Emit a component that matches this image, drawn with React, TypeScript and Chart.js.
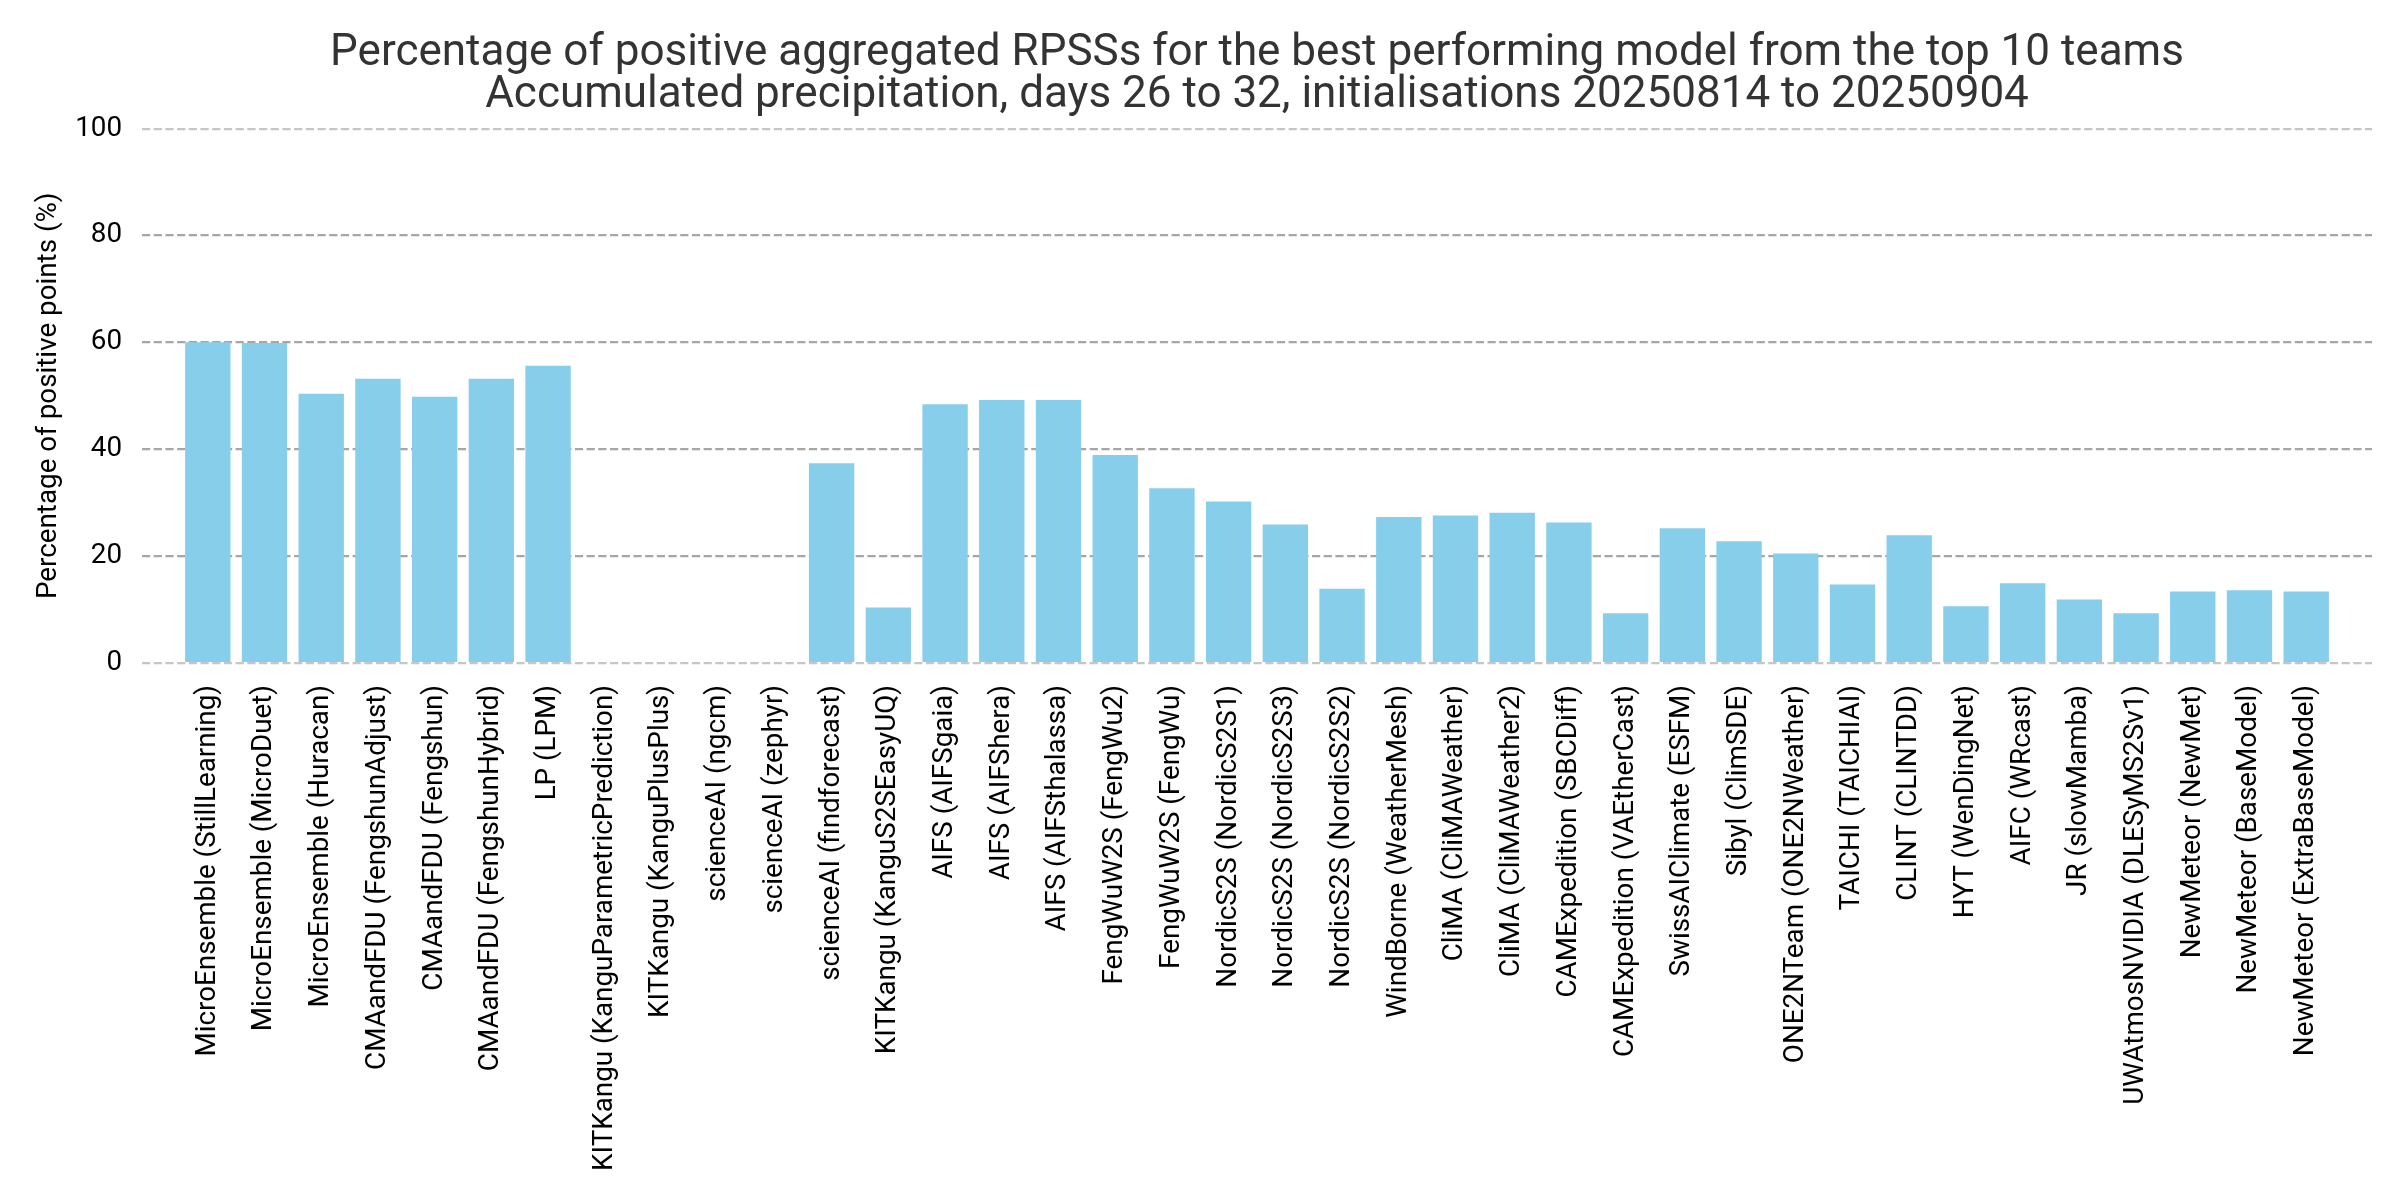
import React, { useEffect, useRef } from "react";
import { Chart, registerables } from "chart.js";

Chart.register(...registerables);

const titleLines = [
  "Percentage of positive aggregated RPSSs for the best performing model from the top 10 teams",
  "Accumulated precipitation, days 26 to 32, initialisations 20250814 to 20250904",
];
const yAxisLabel = "Percentage of positive points (%)";

const categories = [
  "MicroEnsemble (StillLearning)",
  "MicroEnsemble (MicroDuet)",
  "MicroEnsemble (Huracan)",
  "CMAandFDU (FengshunAdjust)",
  "CMAandFDU (Fengshun)",
  "CMAandFDU (FengshunHybrid)",
  "LP (LPM)",
  "KITKangu (KanguParametricPrediction)",
  "KITKangu (KanguPlusPlus)",
  "scienceAI (ngcm)",
  "scienceAI (zephyr)",
  "scienceAI (findforecast)",
  "KITKangu (KanguS2SEasyUQ)",
  "AIFS (AIFSgaia)",
  "AIFS (AIFShera)",
  "AIFS (AIFSthalassa)",
  "FengWuW2S (FengWu2)",
  "FengWuW2S (FengWu)",
  "NordicS2S (NordicS2S1)",
  "NordicS2S (NordicS2S3)",
  "NordicS2S (NordicS2S2)",
  "WindBorne (WeatherMesh)",
  "CliMA (CliMAWeather)",
  "CliMA (CliMAWeather2)",
  "CAMExpedition (SBCDiff)",
  "CAMExpedition (VAEtherCast)",
  "SwissAIClimate (ESFM)",
  "Sibyl (ClimSDE)",
  "ONE2NTeam (ONE2NWeather)",
  "TAICHI (TAICHIAI)",
  "CLINT (CLINTDD)",
  "HYT (WenDingNet)",
  "AIFC (WRcast)",
  "JR (slowMamba)",
  "UWAtmosNVIDIA (DLESyMS2Sv1)",
  "NewMeteor (NewMet)",
  "NewMeteor (BaseModel)",
  "NewMeteor (ExtraBaseModel)",
];

const values = [
  60.0, 59.9, 50.4, 53.2, 49.8, 53.2, 55.6, 0, 0, 0, 0, 37.4, 10.4, 48.4, 49.2,
  49.2, 38.9, 32.7, 30.2, 25.9, 13.9, 27.3, 27.6, 28.1, 26.3, 9.3, 25.2, 22.8,
  20.5, 14.7, 23.9, 10.6, 14.9, 11.9, 9.3, 13.4, 13.6, 13.4,
];

const yMin = 0;
const yMax = 100;
const yStep = 20;

const centerTitleOnAxes = {
  id: "centerTitleOnAxes",
  afterLayout(chart: any) {
    const tb = chart.titleBlock;
    if (tb && chart.chartArea) {
      tb.left = chart.chartArea.left;
      tb.right = chart.chartArea.right;
      tb.width = chart.chartArea.right - chart.chartArea.left;
    }
  },
};

export default function App() {
  const canvasRef = useRef<HTMLCanvasElement | null>(null);

  useEffect(() => {
    document.body.style.margin = "0";
    const canvas = canvasRef.current;
    if (!canvas) return;
    const pad = 1.16;
    const chart = new Chart(canvas, {
      type: "bar",
      data: {
        datasets: [
          {
            data: values.map((v, i) => ({ x: i, y: v })),
            backgroundColor: "#87CEEB",
            borderWidth: 0,
            barPercentage: 0.8,
            categoryPercentage: 1.0,
          },
        ],
      },
      plugins: [centerTitleOnAxes],
      options: {
        responsive: false,
        animation: false,
        devicePixelRatio: 1,
        layout: { padding: { left: 0, right: 28, top: 0, bottom: 0 } },
        plugins: {
          legend: { display: false },
          tooltip: { enabled: false },
          title: {
            display: true,
            text: titleLines,
            color: "#333333",
            font: { family: "Roboto", size: 44, weight: "normal", lineHeight: 0.95 },
            padding: { top: 33, bottom: 12 },
          },
        },
        scales: {
          x: {
            type: "linear",
            offset: false,
            min: -pad,
            max: categories.length - 1 + pad,
            grid: { display: false, drawTicks: false },
            border: { display: false },
            afterBuildTicks: (scale: any) => {
              scale.ticks = categories.map((_, i) => ({ value: i }));
            },
            afterFit: (scale: any) => {
              scale.height = 537;
            },
            ticks: {
              autoSkip: false,
              maxRotation: 90,
              minRotation: 90,
              padding: 22,
              color: "#000000",
              font: { family: "Roboto", size: 27.8 },
              callback: (value: any) => categories[Math.round(Number(value))] ?? "",
            },
          },
          y: {
            min: yMin,
            max: yMax,
            z: 1,
            border: { display: false, dash: [8.2, 3.5] },
            grid: {
              color: (ctx: any) =>
                ctx.tick && (ctx.tick.value === yMin || ctx.tick.value === yMax)
                  ? "rgba(128,128,128,0.45)"
                  : "rgba(128,128,128,0.7)",
              lineWidth: 2.2,
              drawTicks: false,
            },
            afterFit: (scale: any) => {
              scale.width = 142;
            },
            ticks: {
              stepSize: yStep,
              padding: 20,
              color: "#000000",
              font: { family: "Roboto", size: 27.8 },
            },
            title: {
              display: true,
              text: yAxisLabel,
              color: "#000000",
              font: { family: "Roboto", size: 27.8, lineHeight: 1.2 },
              padding: { top: 32, bottom: 0 },
            },
          },
        },
      } as any,
    } as any);
    return () => chart.destroy();
  }, []);

  return (
    <div style={{ width: 2400, height: 1200, background: "#ffffff" }}>
      <canvas ref={canvasRef} width={2400} height={1200} style={{ width: 2400, height: 1200 }} />
    </div>
  );
}
